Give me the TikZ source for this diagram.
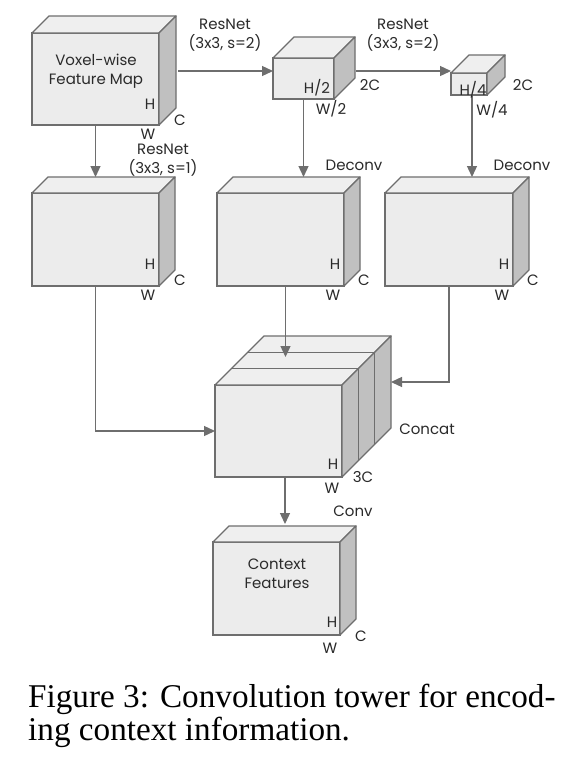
\documentclass[tikz,border=0pt]{standalone}
\usepackage{fontspec}
\usetikzlibrary{arrows.meta,calc}
\newfontfamily\diagfont{Poppins}
\newfontfamily\capfont{Liberation Serif}
\definecolor{lc}{HTML}{6E6E6E}
\definecolor{facec}{HTML}{ECECEC}
\definecolor{topc}{HTML}{EFEFEF}
\definecolor{sidec}{HTML}{C0C0C0}
\definecolor{txtc}{HTML}{2A2A2A}
\tikzset{
  face/.style={draw=lc, fill=facec, line width=1.3pt, inner sep=0pt, outer sep=0pt},
  topf/.style={draw=lc, fill=topc, line width=1.3pt, line join=round},
  sidef/.style={draw=lc, fill=sidec, line width=1.3pt, line join=round},
  divl/.style={draw=lc, line width=1.3pt},
  arr/.style={draw=lc, line width=1.3pt, -{Triangle[length=11pt,width=10pt]}},
  lab/.style={text=txtc, inner sep=0pt, align=center, font=\diagfont\fontsize{15}{19}\selectfont},
  caplab/.style={text=black, inner sep=0pt, anchor=base west, font=\capfont\fontsize{33.2}{33}\selectfont}
}
\newcommand\mycube[6]{%
  \node[face, anchor=north west, minimum width=#4pt, minimum height=#5pt] (#1) at (#2,#3) {};
  \filldraw[topf] (#1.north west) -- ++(#6,-#6) -- ++(#4,0) -- (#1.north east) -- cycle;
  \filldraw[sidef] (#1.north east) -- ++(#6,-#6) -- ++(0,#5) -- (#1.south east) -- cycle;
}
\begin{document}
\begin{tikzpicture}[x=1pt,y=-1pt]
\useasboundingbox[fill=white] (0,0) rectangle (577,766);

% cuboids
\mycube{vox}{32}{33}{127}{92}{17}
\mycube{half}{273}{58}{61}{41}{21}
\mycube{quart}{451}{73}{36}{22}{18}
\mycube{ra}{32}{193}{127}{93}{16}
\mycube{rb}{217}{193}{127}{93}{16}
\mycube{rc}{385}{193}{128}{93}{16}
\mycube{cat}{215}{385}{127}{92}{49}
\mycube{ctx}{213}{542}{127}{93}{16}

% concat slab divisions
\foreach \k in {16.33,32.67}{
  \draw[divl] ($(cat.north west)+(\k,-\k)$) -- ++(127,0);
  \draw[divl] ($(cat.north east)+(\k,-\k)$) -- ++(0,92);
}

% connectors
\coordinate (a1) at ([xshift=19pt,yshift=8pt]vox.east);
\draw[arr] (a1) -- (a1 -| half.west);
\coordinate (a2) at ([xshift=22pt]half.east |- a1);
\draw[arr] (a2) -- (a2 -| quart.west);
\draw[arr] (vox.south) -- ([yshift=16pt]ra.north);
\coordinate (b2) at ([yshift=16pt]rb.north);
\draw[arr] (half.south) -- (half.south |- b2);
\coordinate (q1) at ([xshift=3pt]quart.south);
\draw[arr] (q1) -- (q1 |- b2);
\draw[arr] (ra.south) |- (cat.west);
\coordinate (c1) at ([xshift=5pt]rb.south);
\coordinate (c2) at ([yshift=28pt]cat.north);
\draw[arr] (c1) -- (c1 |- c2);
\coordinate (cb) at ([xshift=49pt,yshift=49pt]cat.east);
\draw[arr] (rc.south) |- (cb);
\coordinate (d1) at ([xshift=6.5pt]cat.south);
\coordinate (d2) at ([yshift=18pt]ctx.north);
\draw[arr] (d1) -- (d1 |- d2);

% labels
\node[lab] (tvox) at (96,71.5) {Voxel-wise\\Feature Map};
\node[lab] (voxH) at (150,104) {H};
\node[lab] (voxC) at (180,120) {C};
\node[lab] (voxW) at (148,134) {W};
\node[lab] (rn1) at (225,35.5) {ResNet\\(3x3, s=2)};
\node[lab] (rn2) at (403,35.5) {ResNet\\(3x3, s=2)};
\node[lab] (rn3) at (163,160) {ResNet\\(3x3, s=1)};
\node[lab] (halfH) at (317,88) {H/2};
\node[lab] (halfC) at (370,85) {2C};
\node[lab] (halfW) at (331,109) {W/2};
\node[lab] (quartH) at (473,90) {H/4};
\node[lab] (quartC) at (523,85) {2C};
\node[lab] (quartW) at (492,110) {W/4};
\node[lab] (dc1) at (354,165) {Deconv};
\node[lab] (dc2) at (522,165) {Deconv};
\node[lab] (raH) at (150,264) {H};
\node[lab] (raC) at (180,280) {C};
\node[lab] (raW) at (148,295) {W};
\node[lab] (rbH) at (335,264) {H};
\node[lab] (rbC) at (364,280) {C};
\node[lab] (rbW) at (333,295) {W};
\node[lab] (rcH) at (504,264) {H};
\node[lab] (rcC) at (533,280) {C};
\node[lab] (rcW) at (502,295) {W};
\node[lab] (catH) at (333,464) {H};
\node[lab] (catC) at (363,477) {3C};
\node[lab] (catW) at (332,488) {W};
\node[lab] (catL) at (427,429) {Concat};
\node[lab] (convL) at (353,511) {Conv};
\node[lab] (tctx) at (277,573.5) {Context\\Features};
\node[lab] (ctxH) at (332,622) {H};
\node[lab] (ctxC) at (361,636) {C};
\node[lab] (ctxW) at (330,648) {W};

% caption
\node[caplab] (cap1) at (28,707) {Figure 3: Convolution tower for encod-};
\node[caplab] (cap2) at (28,740) {ing context information.};
\end{tikzpicture}
\end{document}
